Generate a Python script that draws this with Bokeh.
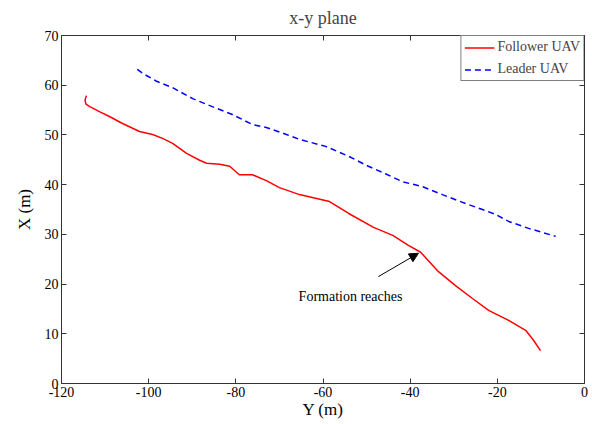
from bokeh.plotting import figure
from bokeh.models import (LinearAxis, Range1d, FixedTicker, Legend, LegendItem,
                          Arrow, NormalHead, Label)
from bokeh.embed import file_html
from bokeh.resources import INLINE

# ---- data ----
follower_y = [-114.3, -114.6, -114.4, -113.5, -111.3, -109.0, -106.0, -102.1, -99.1, -96.8,
              -94.5, -91.3, -88.3, -86.7, -83.7, -81.4, -79.2, -76.2, -73.0, -70.0,
              -65.4, -58.5, -54.1, -48.4, -44.0, -40.4, -37.6, -33.5, -29.6, -25.7,
              -22.0, -17.4, -13.5, -11.7, -10.1]
follower_x = [57.9, 57.0, 56.2, 55.7, 54.7, 53.7, 52.3, 50.7, 50.1, 49.3,
              48.3, 46.3, 44.9, 44.3, 44.1, 43.7, 42.0, 42.0, 40.8, 39.4,
              38.0, 36.6, 34.2, 31.4, 29.8, 27.8, 26.4, 22.5, 19.7, 17.1,
              14.7, 12.7, 10.7, 8.7, 6.6]
leader_y = [-102.6, -101.4, -98.2, -94.5, -89.9, -85.4, -80.8, -76.2, -73.0, -68.4,
            -65.4, -59.4, -54.1, -49.6, -45.7, -41.8, -37.2, -32.6, -27.3, -23.4,
            -20.4, -17.4, -12.8, -6.6]
leader_x = [63.2, 62.4, 60.8, 59.5, 57.3, 55.7, 54.1, 52.1, 51.5, 50.1,
            49.1, 47.7, 45.7, 43.7, 42.2, 40.6, 39.6, 38.0, 36.2, 35.0,
            34.0, 32.6, 31.2, 29.6]
x_ticks = [-120, -100, -80, -60, -40, -20, 0]
x_tick_labels = ["-120", "-100", "-80", "-60", "-40", "-20", "0"]
y_ticks = [0, 10, 20, 30, 40, 50, 60, 70]
series_names = ["Follower UAV", "Leader UAV"]
annotation_text = "Formation reaches"
arrow_tail = (-47.3, 21.5)
arrow_head = (-38.1, 26.2)
text_pos = (-65.6, 17.5)

FONT = "Liberation Serif"
AX = "#333333"

p = figure(frame_width=523, frame_height=348, output_backend="svg", toolbar_location=None,
           x_range=Range1d(-120, 0), y_range=Range1d(0, 70),
           min_border_left=61, min_border_top=34, min_border_right=6, min_border_bottom=10,
           title="x-y plane")
p.title.align = "center"
p.title.vertical_align = "middle"
p.title.text_font = FONT
p.title.text_font_size = "18px"
p.title.text_font_style = "normal"
p.title.standoff = 13
p.grid.visible = False
p.outline_line_color = None
p.background_fill_color = "white"
p.border_fill_color = "white"

for ax, ticks in ((p.xaxis[0], x_ticks), (p.yaxis[0], y_ticks)):
    ax.ticker = FixedTicker(ticks=ticks)
    ax.major_tick_in = 5
    ax.major_tick_out = 0
    ax.minor_tick_line_color = None
    ax.axis_line_color = AX
    ax.major_tick_line_color = AX
    ax.major_label_text_font = FONT
    ax.major_label_text_font_size = "14px"
    ax.major_label_text_color = "black"
    ax.axis_label_text_font = FONT
    ax.axis_label_text_font_size = "17px"
    ax.axis_label_text_font_style = "normal"
    ax.axis_label_text_color = "black"

p.xaxis.major_label_overrides = dict(zip(x_ticks, x_tick_labels))
p.xaxis.axis_label = "Y (m)"
p.yaxis.axis_label = "X (m)"
p.xaxis.major_label_standoff = 3
p.yaxis.major_label_standoff = 3
p.xaxis.axis_label_standoff = 0
p.yaxis.axis_label_standoff = 8

top_axis = LinearAxis(ticker=FixedTicker(ticks=x_ticks), major_tick_in=5, major_tick_out=0,
                      minor_tick_line_color=None, axis_line_color=AX, major_tick_line_color=AX,
                      major_label_text_color=None, major_label_standoff=0)
right_axis = LinearAxis(ticker=FixedTicker(ticks=y_ticks), major_tick_in=5, major_tick_out=0,
                        minor_tick_line_color=None, axis_line_color=AX, major_tick_line_color=AX,
                        major_label_text_color=None, major_label_standoff=0)
p.add_layout(top_axis, "above")
p.add_layout(right_axis, "right")

r1 = p.line(follower_y, follower_x, line_color="#ff0000", line_width=1.5)
r2 = p.line(leader_y, leader_x, line_color="#0000ff", line_width=1.5, line_dash="6 4")

legend = Legend(items=[LegendItem(label=series_names[0], renderers=[r1]),
                       LegendItem(label=series_names[1], renderers=[r2])],
                location="top_right", margin=0, padding=3, spacing=6,
                glyph_width=30, glyph_height=13, label_height=13, label_standoff=3,
                label_text_font=FONT, label_text_font_size="14px",
                border_line_color="black", border_line_width=1,
                background_fill_alpha=1.0)
p.add_layout(legend)

p.add_layout(Arrow(end=NormalHead(size=9, fill_color="black", line_color="black"),
                   x_start=arrow_tail[0], y_start=arrow_tail[1],
                   x_end=arrow_head[0], y_end=arrow_head[1],
                   line_color="black", line_width=1))
p.add_layout(Label(x=text_pos[0], y=text_pos[1], text=annotation_text,
                   text_font=FONT, text_font_size="14px", text_baseline="middle",
                   text_align="left", text_color="black"))

open("out.html", "w").write(file_html(p, INLINE))
